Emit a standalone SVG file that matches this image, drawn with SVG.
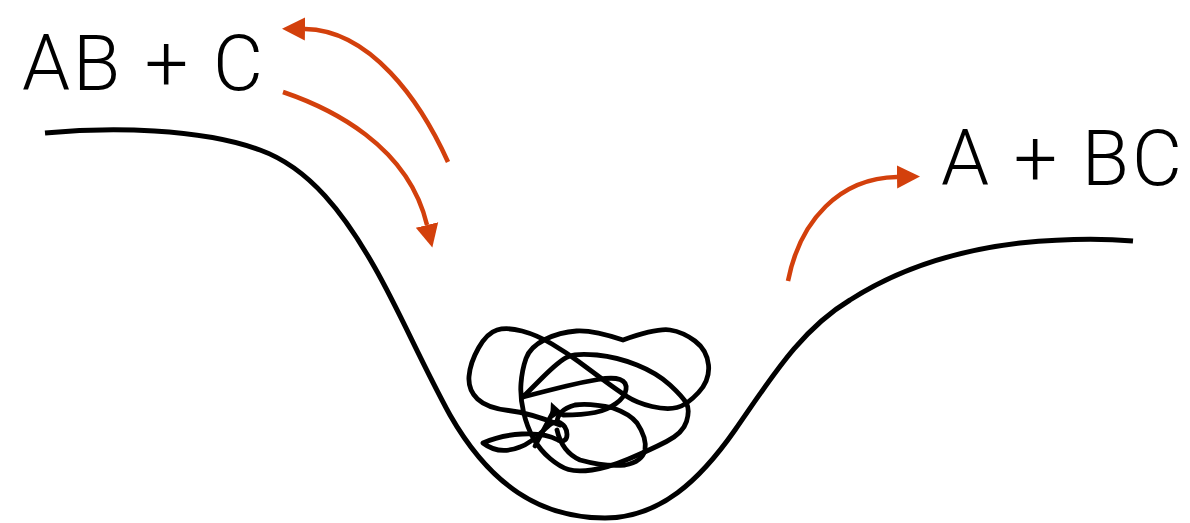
<svg xmlns="http://www.w3.org/2000/svg" width="1190" height="523" viewBox="0 0 1190 523">
<style>
.lbl{font-family:Roboto,"Liberation Sans",sans-serif;font-weight:300;font-size:77px;fill:#000}
.ln{fill:none;stroke:#000;stroke-width:5;stroke-linecap:butt;stroke-linejoin:round}
.tg{fill:none;stroke:#000;stroke-width:4.8;stroke-linecap:round;stroke-linejoin:round}
.arr{fill:none;stroke:#d3400c;stroke-width:4.5;marker-end:url(#head)}
</style>
<defs>
<marker id="head" viewBox="0 -12 24 24" refX="0" refY="0" markerWidth="24" markerHeight="24" markerUnits="userSpaceOnUse" orient="auto">
<path d="M0,-11.5 L23,0 L0,11.5 Z" fill="#d3400c"/>
</marker>
</defs>
<rect width="1190" height="523" fill="#fff"/>
<g id="landscape">
<path class="ln" d="M45,133 C110,127 200,128 260,150 C310,168 345,215 375,268 C400,312 420,360 450,415 C490,485 540,518 605,518 C660,518 700,480 735,430 C770,380 800,330 850,300 C900,268 960,250 1020,243 C1070,238 1110,239 1133,241"/>
</g>
<g id="tangle">
<path class="tg" d="M560,425 Q530,413 508.5,410.5 Q487,408 477.5,399 Q468,390 469,376.5 Q470,363 478.5,348 Q487,333 497,330 Q507,327 522,331 Q537,335 552,344 Q567,353 578.5,361.5 Q590,370 603.5,380 Q617,390 627,396.5 Q637,403 652,406.5 Q667,410 677,407.5 Q687,405 698.5,392.5 Q710,380 708.5,365 Q707,350 695,341 Q683,332 670,330 Q657,328 623,340 Q593,330 576.5,331 Q560,332 545,339.5 Q530,347 526,358.5 Q522,370 521,383.5 Q520,397 523.5,412 Q527,427 533.5,438.5 Q540,450 550,458.5 Q560,467 568.5,469.5 Q577,472 592,470 Q607,468 628.5,459 Q650,450 666.5,441.5 Q683,433 686.5,421.5 Q690,410 686.5,403.5 Q683,397 670,385 Q657,373 637,365 Q617,357 597,355 Q577,353 568.5,356.5 Q560,360 541.5,378.5 L523,397"/>
<path class="tg" d="M523,397 Q550,390 566.5,386 Q583,382 598,379.5 Q613,377 620,379.5 Q627,382 626,389.5 Q625,397 616,403.5 Q607,410 595,412.5 Q583,415 563,415"/>
<path class="tg" d="M557,423 Q557,410 575,405 Q590,403 613,408 Q630,414 637,423 Q647,438 645,450 Q642,462 625,465 Q605,467 580,460 Q562,452 557,430"/>
<path class="tg" d="M483,443 C505,433 540,430 558,440 C570,446 570,425 558,422 C548,420 540,440 520,447 C505,453 492,450 483,443 Z"/>
<path class="tg" d="M535,446 L553,412"/>
<polygon points="551,402 550,420 562,412" fill="#000"/>
</g>
<g id="label-left">
<text class="lbl" x="22" y="90" textLength="241" lengthAdjust="spacing">AB + C</text>
</g>
<g id="label-right">
<text class="lbl" x="941" y="185" textLength="241" lengthAdjust="spacing">A + BC</text>
</g>
<g id="connectors">
<path class="arr" d="M448,162 C420,100 370,30 305,29"/>
<path class="arr" d="M283,92 C330,108 408,145 427,225"/>
<path class="arr" d="M788,281 C800,220 840,178 897,177"/>
</g>
</svg>
